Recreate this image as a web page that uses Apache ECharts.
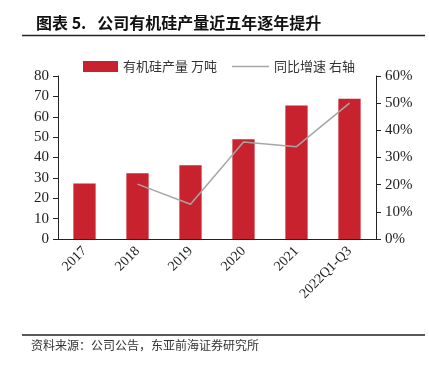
<!DOCTYPE html>
<html><head><meta charset="utf-8">
<script src="https://cdn.jsdelivr.net/npm/echarts@6/dist/echarts.min.js"></script>
<style>html,body{margin:0;padding:0;background:#fff}#c{width:429px;height:365px}</style>
</head><body><div id="c"></div>
<script>
const categories = ['2017','2018','2019','2020','2021','2022Q1-Q3'];
const production = [27.2, 32.3, 36.2, 49, 65.5, 68.8];
const growth = [null, 20.2, 12.8, 35.7, 34, 50];
const leftTicks = [0, 80, 10];
const rightTicks = [0, 60, 10];

const chart = echarts.init(document.getElementById('c'));
const serif = '"Liberation Serif","Times New Roman",serif';
const cjk = '"Noto Sans CJK SC",sans-serif';
chart.setOption({
  animation: false,
  backgroundColor: '#fff',
  title: {
    text: '图表 5.   公司有机硅产量近五年逐年提升',
    left: 31, top: 10,
    textStyle: {fontFamily: cjk, fontSize: 16, fontWeight: 'bold', color: '#111'}
  },
  graphic: [
    {type: 'line', shape: {x1: 22, y1: 35.5, x2: 425, y2: 35.5}, style: {stroke: '#222', lineWidth: 1.5}},
    {type: 'line', shape: {x1: 22, y1: 335, x2: 425, y2: 335}, style: {stroke: '#222', lineWidth: 1.5}},
    {type: 'text', left: 31, top: 339, style: {text: '资料来源：公司公告，东亚前海证券研究所', font: '12px "Noto Sans CJK SC"', fill: '#333'}}
  ],
  legend: [
    {top: 55, left: 78, itemWidth: 35, itemHeight: 11,
     textStyle: {fontFamily: cjk, fontSize: 13, color: '#333'},
     data: [{name: '有机硅产量 万吨', icon: 'rect'}]},
    {top: 55, left: 227, itemWidth: 37, itemHeight: 11,
     textStyle: {fontFamily: cjk, fontSize: 13, color: '#333'},
     data: [{name: '同比增速 右轴', icon: 'path://M0,0 L40,0 L40,1.6 L0,1.6 Z'}]}
  ],
  grid: {left: 58, right: 53, top: 76, bottom: 126, containLabel: false},
  xAxis: {
    type: 'category', data: categories,
    axisLine: {lineStyle: {color: '#222', width: 1}},
    axisTick: {show: false},
    axisLabel: {rotate: 45, fontFamily: serif, fontSize: 14, color: '#222', margin: 10, interval: 0}
  },
  yAxis: [
    {type: 'value', min: leftTicks[0], max: leftTicks[1], interval: leftTicks[2],
     axisLine: {show: true, lineStyle: {color: '#222'}},
     axisTick: {show: true, inside: false, length: 5, lineStyle: {color: '#222'}},
     splitLine: {show: false},
     axisLabel: {fontFamily: serif, fontSize: 15, color: '#222', margin: 9}},
    {type: 'value', min: rightTicks[0], max: rightTicks[1], interval: rightTicks[2], position: 'right',
     axisLine: {show: true, lineStyle: {color: '#222'}},
     axisTick: {show: true, length: 5, lineStyle: {color: '#222'}},
     splitLine: {show: false},
     axisLabel: {fontFamily: serif, fontSize: 15, color: '#222', margin: 9, formatter: '{value}%'}}
  ],
  series: [
    {name: '有机硅产量 万吨', type: 'bar', data: production, barWidth: '42%',
     itemStyle: {color: '#C8222E'}},
    {name: '同比增速 右轴', type: 'line', yAxisIndex: 1, data: growth,
     symbol: 'none', lineStyle: {color: '#A6A6A6', width: 1.5}, itemStyle: {color: '#A6A6A6'}}
  ]
});
</script></body></html>
